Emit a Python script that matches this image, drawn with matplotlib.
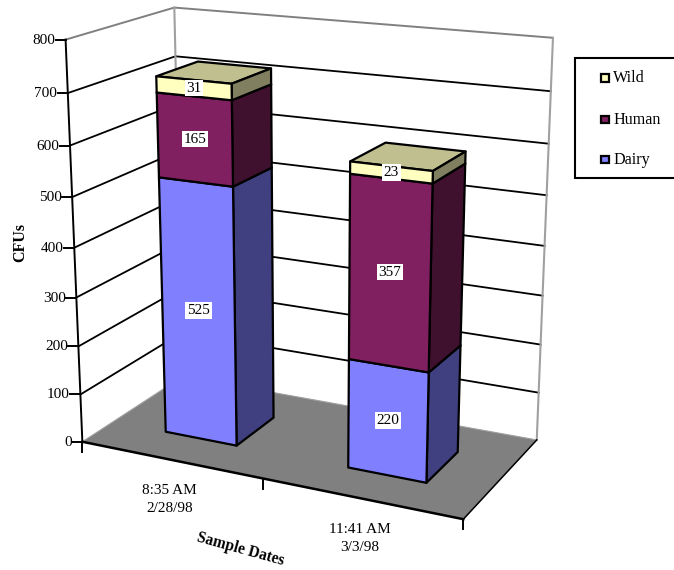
import numpy as np
from matplotlib import pyplot as plt
from matplotlib.patches import Polygon, Rectangle

plt.rcParams['font.family'] = ['Liberation Serif', 'DejaVu Serif']

categories = ['8:35 AM\n2/28/98', '11:41 AM\n3/3/98']
series_names = ['Dairy', 'Human', 'Wild']
dairy = [525, 220]
human = [165, 357]
wild = [31, 23]
y_ticks = [0, 100, 200, 300, 400, 500, 600, 700, 800]

front_colors = ['#8080FF', '#802060', '#FFFFC0']
side_colors = ['#404080', '#40102F', '#808060']
top_colors = ['#404080', '#601848', '#BFBF90']

# camera calibration: (category position, value, depth) -> pixel
world_pts = [(0, 800, 0), (0, 700, 0), (0, 600, 0), (0, 500, 0), (0, 400, 0),
             (0, 300, 0), (0, 200, 0), (0, 100, 0), (0, 0, 0),
             (2, 0, 0), (2, 0, 1), (2, 800, 1), (0, 800, 1), (0, 0, 1)]
pixel_pts = [(65.5, 40), (67.5, 93), (69.5, 145.5), (72, 197), (74, 247.5),
             (76.5, 297), (78.5, 346), (81, 395), (83, 441.5),
             (463, 520), (537, 439), (553, 38), (175, 7.5), (182, 377)]


def fit_camera(world, pixel):
    rows = []
    for (x, v, z), (px, py) in zip(world, pixel):
        p = [x, v / 400, z, 1]
        rows.append(p + [0, 0, 0, 0] + [-px * c for c in p])
        rows.append([0, 0, 0, 0] + p + [-py * c for c in p])
    return np.linalg.svd(np.array(rows))[2][-1].reshape(3, 4)


cam = fit_camera(world_pts, pixel_pts)


def project(x, v, z):
    h = cam @ np.array([x, v / 400, z, 1])
    return h[0] / h[2], h[1] / h[2]


def path(*pts):
    xy = [project(*p) for p in pts]
    return [p[0] for p in xy], [p[1] for p in xy]


fig = plt.figure(figsize=(6.74, 5.70), dpi=100)
ax = fig.add_axes([0, 0, 1, 1])
ax.set_xlim(0, 674)
ax.set_ylim(570, 0)
ax.axis('off')

# floor
floor = [project(0, 0, 0), project(2, 0, 0), project(2, 0, 1), project(0, 0, 1)]
ax.add_patch(Polygon(floor, facecolor='#808080', edgecolor='#A0A0A0', lw=0.8, zorder=1))

# walls
for v in y_ticks[1:-1]:
    ax.plot(*path((0, v, 0), (0, v, 1), (2, v, 1)), color='k', lw=1.3, zorder=2)
ax.plot(*path((0, 800, 0), (0, 800, 1), (2, 800, 1)), color='#808080', lw=1.4, zorder=2)
ax.plot(*path((0, 800, 1), (0, 0, 1)), color='#A0A0A0', lw=1.5, zorder=2)
ax.plot(*path((2, 800, 1), (2, 0, 1)), color='#A0A0A0', lw=1.5, zorder=2)

# axes lines and ticks
ax.plot(*path((0, 800, 0), (0, 0, 0)), color='k', lw=1.4, zorder=3)
ax.plot(*path((0, 0, 0), (2, 0, 0)), color='k', lw=1.8, zorder=3)
ax.plot(*path((2, 0, 0), (2, 0, 1)), color='k', lw=1.1, zorder=3)
for v in y_ticks:
    px, py = project(0, v, 0)
    ax.plot([px - 10, px], [py, py], color='k', lw=1.4, zorder=3)
    ax.text(px - 10.5, py + 0.5, str(v), ha='right', va='center', fontsize=11, zorder=3)
for x in range(3):
    px, py = project(x, 0, 0)
    ax.plot([px, px], [py, py + 10], color='k', lw=1.4, zorder=3)
for i, label in enumerate(categories):
    px, py = project(i + 0.5, 0, 0)
    ax.text(px - 1, py + 40, label, ha='center', va='center', fontsize=11,
            linespacing=1.55, zorder=3)

# stacked bars
bar_center = 0.505
bar_half = 0.2
z0, z1 = 0.29, 0.69
for i in range(len(categories)):
    x0, x1 = i + bar_center - bar_half, i + bar_center + bar_half
    base = 0
    for j, values in enumerate([dairy, human, wild]):
        top = base + values[i]
        front = [project(x0, base, z0), project(x1, base, z0), project(x1, top, z0), project(x0, top, z0)]
        side = [project(x1, base, z0), project(x1, base, z1), project(x1, top, z1), project(x1, top, z0)]
        cap = [project(x0, top, z0), project(x1, top, z0), project(x1, top, z1), project(x0, top, z1)]
        for poly, c in [(cap, top_colors[j]), (side, side_colors[j]), (front, front_colors[j])]:
            ax.add_patch(Polygon(poly, facecolor=c, edgecolor='k', lw=1.6, joinstyle='round', zorder=4))
        px = (front[0][0] + front[1][0] + front[2][0] + front[3][0]) / 4
        py = (front[0][1] + front[1][1] + front[2][1] + front[3][1]) / 4
        ax.text(px, py, str(values[i]), ha='center', va='center', fontsize=11, zorder=5,
                bbox=dict(facecolor='white', edgecolor='none', pad=1.2))
        base = top

# axis titles
ax.text(20, 242.5, 'CFUs', rotation=90, ha='center', va='center', fontsize=11.5, fontweight='bold')
ax.text(240, 549.5, 'Sample Dates', rotation=-15.5, ha='center', va='center', rotation_mode='anchor',
        fontsize=11.2, fontweight='bold')

# legend box runs off the right side
ax.add_patch(Rectangle((575, 57.5), 110, 120, facecolor='white', edgecolor='k', lw=1.5, zorder=3))
legend_y = [78, 119, 159]
for name, color, ly in zip(series_names[::-1], front_colors[::-1], legend_y):
    h = 7 if name != 'Wild' else 8
    ax.add_patch(Rectangle((601, ly - h / 2), 8, h, facecolor=color, edgecolor='k', lw=1.6, zorder=4))
    ax.text(613, ly + 0.5, name, ha='left', va='center', fontsize=11.6, zorder=4)

plt.savefig('out.png', dpi=100)
